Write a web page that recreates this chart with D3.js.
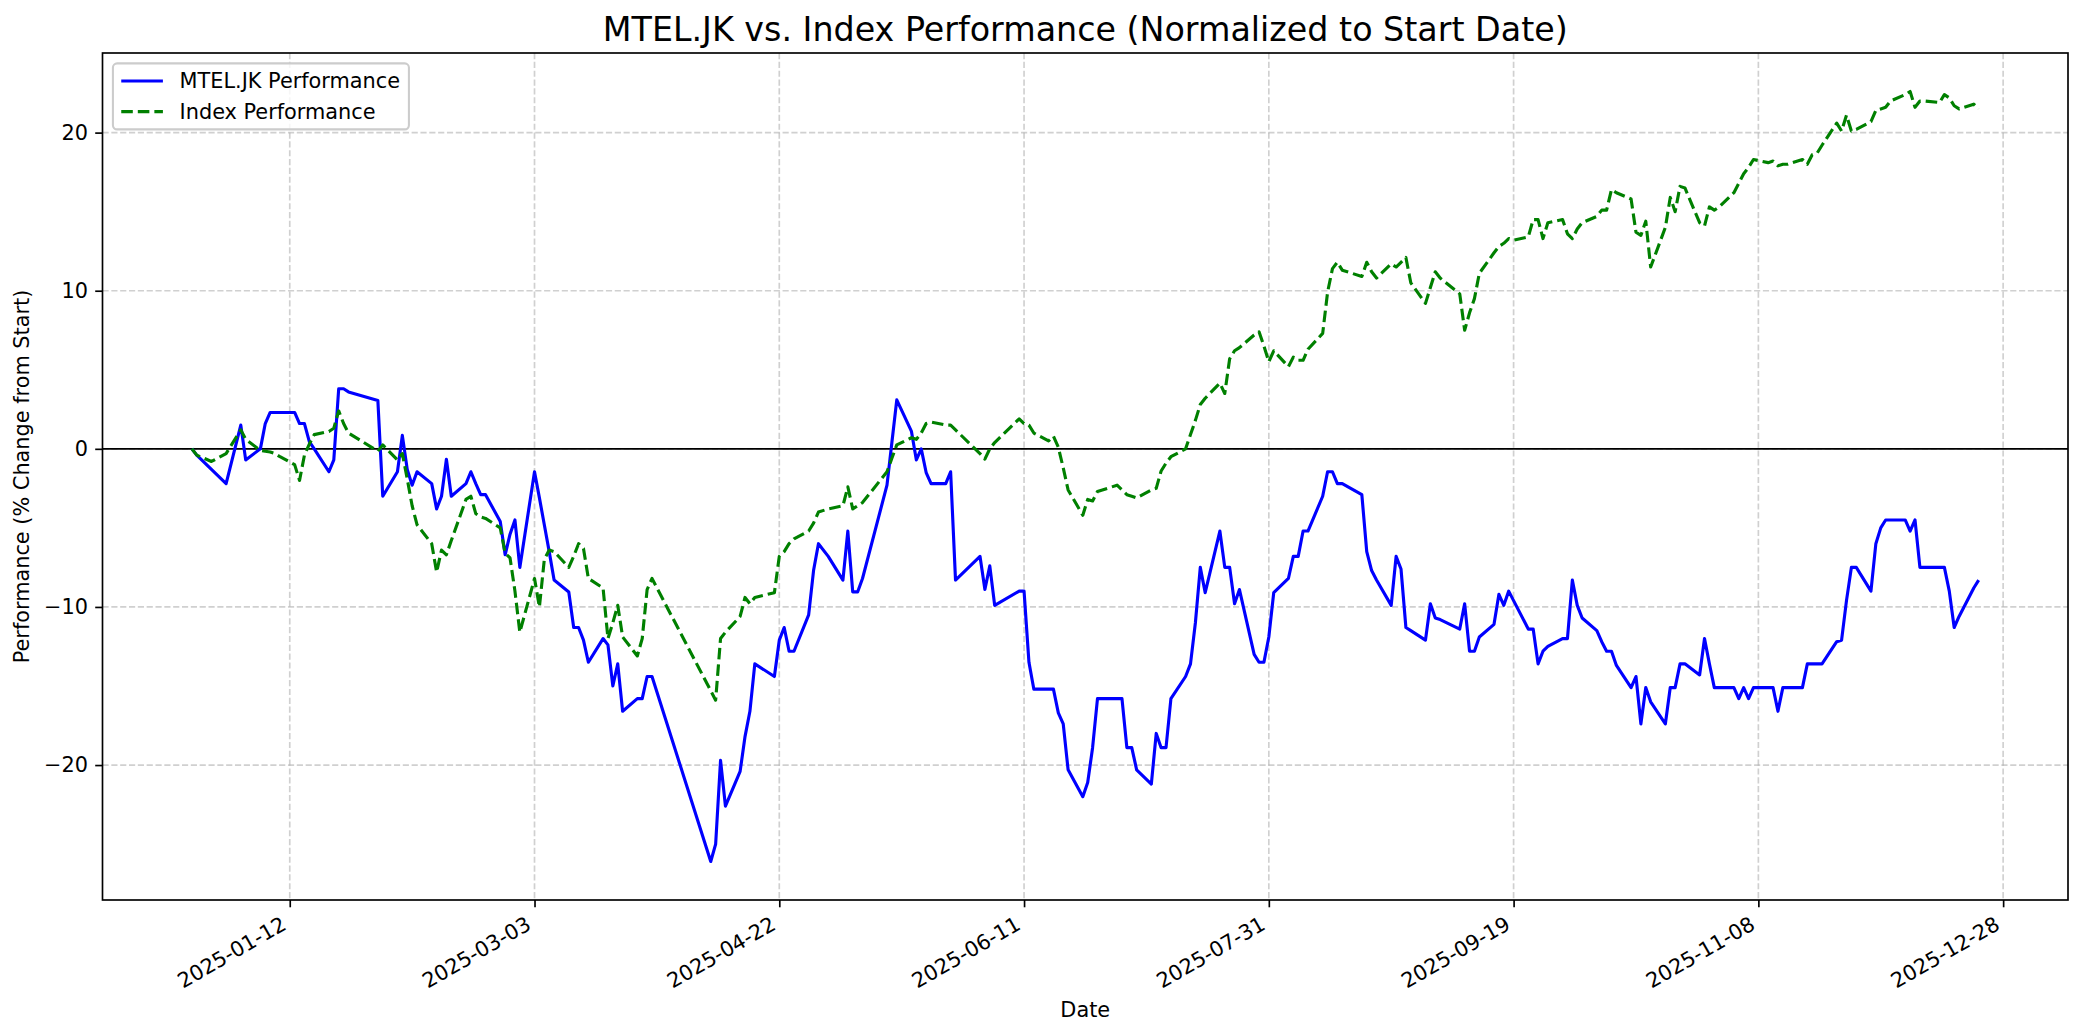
<!DOCTYPE html>
<html><head><meta charset="utf-8">
<script src="https://cdn.jsdelivr.net/npm/d3@7"></script>
<style>
html,body{margin:0;padding:0;background:#fff;}
svg{display:block;}
text{font-family:"DejaVu Sans",sans-serif;fill:#000;}
</style></head><body>
<svg id="chart" width="2084" height="1035"></svg>
<script>
const titleText = "MTEL.JK vs. Index Performance (Normalized to Start Date)";
const xLabelText = "Date";
const yLabelText = "Performance (% Change from Start)";
const seriesNames = ["MTEL.JK Performance", "Index Performance"];
const xTickLabels = ["2025-01-12","2025-03-03","2025-04-22","2025-06-11","2025-07-31","2025-09-19","2025-11-08","2025-12-28"];
const yTickValues = [-20, -10, 0, 10, 20];

const mtelData = [
["2024-12-23",0.0],["2024-12-24",-0.4],["2024-12-27",-1.3],["2024-12-30",-2.2],
["2025-01-02",1.5],["2025-01-03",-0.7],["2025-01-06",0.0],["2025-01-07",1.6],["2025-01-08",2.3],
["2025-01-09",2.3],["2025-01-10",2.3],["2025-01-13",2.3],["2025-01-14",1.6],["2025-01-15",1.6],
["2025-01-16",0.45],["2025-01-17",0.0],["2025-01-20",-1.45],["2025-01-21",-0.7],["2025-01-22",3.8],
["2025-01-23",3.8],["2025-01-24",3.6],["2025-01-30",3.05],["2025-01-31",-3.0],["2025-02-03",-1.45],
["2025-02-04",0.85],["2025-02-05",-1.3],["2025-02-06",-2.3],["2025-02-07",-1.45],["2025-02-10",-2.2],
["2025-02-11",-3.8],["2025-02-12",-3.0],["2025-02-13",-0.66],["2025-02-14",-3.0],["2025-02-17",-2.2],
["2025-02-18",-1.45],["2025-02-19",-2.2],["2025-02-20",-2.9],["2025-02-21",-2.9],["2025-02-24",-4.6],
["2025-02-25",-6.7],["2025-02-26",-5.4],["2025-02-27",-4.5],["2025-02-28",-7.5],["2025-03-03",-1.45],
["2025-03-04",-3.1],["2025-03-05",-4.8],["2025-03-06",-6.5],["2025-03-07",-8.3],["2025-03-10",-9.05],
["2025-03-11",-11.3],["2025-03-12",-11.3],["2025-03-13",-12.1],["2025-03-14",-13.5],["2025-03-17",-12.0],
["2025-03-18",-12.4],["2025-03-19",-15.0],["2025-03-20",-13.6],["2025-03-21",-16.6],["2025-03-24",-15.8],
["2025-03-25",-15.8],["2025-03-26",-14.4],["2025-03-27",-14.4],["2025-04-08",-26.1],["2025-04-09",-25.0],
["2025-04-10",-19.7],["2025-04-11",-22.6],["2025-04-14",-20.4],["2025-04-15",-18.2],["2025-04-16",-16.6],
["2025-04-17",-13.6],["2025-04-21",-14.4],["2025-04-22",-12.1],["2025-04-23",-11.3],["2025-04-24",-12.8],
["2025-04-25",-12.8],["2025-04-28",-10.5],["2025-04-29",-7.7],["2025-04-30",-6.0],["2025-05-02",-6.8],
["2025-05-05",-8.3],["2025-05-06",-5.2],["2025-05-07",-9.05],["2025-05-08",-9.05],["2025-05-09",-8.2],
["2025-05-14",-2.3],["2025-05-15",0.4],["2025-05-16",3.1],["2025-05-19",1.1],["2025-05-20",-0.7],
["2025-05-21",0.0],["2025-05-22",-1.5],["2025-05-23",-2.2],["2025-05-26",-2.2],["2025-05-27",-1.45],
["2025-05-28",-8.3],["2025-06-02",-6.8],["2025-06-03",-8.9],["2025-06-04",-7.4],["2025-06-05",-9.9],
["2025-06-10",-9.0],["2025-06-11",-9.0],["2025-06-12",-13.5],["2025-06-13",-15.2],["2025-06-16",-15.2],
["2025-06-17",-15.2],["2025-06-18",-16.7],["2025-06-19",-17.4],["2025-06-20",-20.3],["2025-06-23",-22.0],
["2025-06-24",-21.1],["2025-06-25",-18.9],["2025-06-26",-15.8],["2025-06-30",-15.8],["2025-07-01",-15.8],
["2025-07-02",-18.9],["2025-07-03",-18.9],["2025-07-04",-20.3],["2025-07-07",-21.2],["2025-07-08",-18.0],
["2025-07-09",-18.9],["2025-07-10",-18.9],["2025-07-11",-15.8],["2025-07-14",-14.4],["2025-07-15",-13.6],
["2025-07-16",-11.0],["2025-07-17",-7.5],["2025-07-18",-9.1],["2025-07-21",-5.2],["2025-07-22",-7.5],
["2025-07-23",-7.5],["2025-07-24",-9.8],["2025-07-25",-8.9],["2025-07-28",-13.0],["2025-07-29",-13.5],
["2025-07-30",-13.5],["2025-07-31",-11.9],["2025-08-01",-9.1],["2025-08-04",-8.2],["2025-08-05",-6.8],
["2025-08-06",-6.8],["2025-08-07",-5.2],["2025-08-08",-5.2],["2025-08-11",-3.0],["2025-08-12",-1.45],
["2025-08-13",-1.45],["2025-08-14",-2.2],["2025-08-15",-2.2],["2025-08-19",-2.9],["2025-08-20",-6.5],
["2025-08-21",-7.7],["2025-08-22",-8.3],["2025-08-25",-9.9],["2025-08-26",-6.8],["2025-08-27",-7.6],
["2025-08-28",-11.3],["2025-08-29",-11.5],["2025-09-01",-12.1],["2025-09-02",-9.8],["2025-09-03",-10.7],
["2025-09-04",-10.8],["2025-09-08",-11.4],["2025-09-09",-9.8],["2025-09-10",-12.8],["2025-09-11",-12.8],
["2025-09-12",-11.9],["2025-09-15",-11.1],["2025-09-16",-9.2],["2025-09-17",-9.9],["2025-09-18",-9.0],
["2025-09-19",-9.6],["2025-09-22",-11.4],["2025-09-23",-11.4],["2025-09-24",-13.6],["2025-09-25",-12.8],
["2025-09-26",-12.5],["2025-09-29",-12.0],["2025-09-30",-12.0],["2025-10-01",-8.3],["2025-10-02",-9.9],
["2025-10-03",-10.7],["2025-10-06",-11.5],["2025-10-07",-12.2],["2025-10-08",-12.8],["2025-10-09",-12.8],
["2025-10-10",-13.7],["2025-10-13",-15.1],["2025-10-14",-14.4],["2025-10-15",-17.4],["2025-10-16",-15.1],
["2025-10-17",-16.0],["2025-10-20",-17.4],["2025-10-21",-15.1],["2025-10-22",-15.1],["2025-10-23",-13.6],
["2025-10-24",-13.6],["2025-10-27",-14.3],["2025-10-28",-12.0],["2025-10-29",-13.6],["2025-10-30",-15.1],
["2025-10-31",-15.1],["2025-11-03",-15.1],["2025-11-04",-15.8],["2025-11-05",-15.1],["2025-11-06",-15.8],
["2025-11-07",-15.1],["2025-11-10",-15.1],["2025-11-11",-15.1],["2025-11-12",-16.6],["2025-11-13",-15.1],
["2025-11-14",-15.1],["2025-11-17",-15.1],["2025-11-18",-13.6],["2025-11-19",-13.6],["2025-11-20",-13.6],
["2025-11-21",-13.6],["2025-11-24",-12.2],["2025-11-25",-12.1],["2025-11-26",-9.6],["2025-11-27",-7.5],
["2025-11-28",-7.5],["2025-12-01",-9.0],["2025-12-02",-6.0],["2025-12-03",-5.0],["2025-12-04",-4.5],
["2025-12-05",-4.5],["2025-12-08",-4.5],["2025-12-09",-5.2],["2025-12-10",-4.5],["2025-12-11",-7.5],
["2025-12-12",-7.5],["2025-12-15",-7.5],["2025-12-16",-7.5],["2025-12-17",-9.0],["2025-12-18",-11.3],
["2025-12-19",-10.6],["2025-12-22",-8.8],["2025-12-23",-8.3]
];

const indexData = [
["2024-12-23",0.0],["2024-12-24",-0.4],["2024-12-27",-0.8],["2024-12-30",-0.3],
["2025-01-02",1.2],["2025-01-03",0.6],["2025-01-06",-0.1],["2025-01-07",-0.15],["2025-01-08",-0.2],
["2025-01-09",-0.3],["2025-01-10",-0.5],["2025-01-13",-1.0],["2025-01-14",-2.0],["2025-01-15",-0.4],
["2025-01-16",0.3],["2025-01-17",0.9],["2025-01-20",1.1],["2025-01-21",1.3],["2025-01-22",2.4],
["2025-01-23",1.6],["2025-01-24",1.0],["2025-01-30",-0.15],["2025-01-31",0.25],["2025-02-03",-0.7],
["2025-02-04",-0.3],["2025-02-05",-1.9],["2025-02-06",-3.6],["2025-02-07",-4.8],["2025-02-10",-6.0],
["2025-02-11",-7.8],["2025-02-12",-6.4],["2025-02-13",-6.7],["2025-02-14",-5.8],["2025-02-17",-3.2],
["2025-02-18",-3.0],["2025-02-19",-4.1],["2025-02-20",-4.3],["2025-02-21",-4.4],["2025-02-24",-5.0],
["2025-02-25",-6.6],["2025-02-26",-6.9],["2025-02-27",-9.0],["2025-02-28",-11.6],["2025-03-03",-8.2],
["2025-03-04",-10.0],["2025-03-05",-7.0],["2025-03-06",-6.4],["2025-03-07",-6.5],["2025-03-10",-7.5],
["2025-03-11",-6.8],["2025-03-12",-6.0],["2025-03-13",-6.3],["2025-03-14",-8.2],["2025-03-17",-8.8],
["2025-03-18",-12.0],["2025-03-19",-11.0],["2025-03-20",-9.9],["2025-03-21",-11.9],["2025-03-24",-13.1],
["2025-03-25",-12.0],["2025-03-26",-8.9],["2025-03-27",-8.2],["2025-04-08",-15.3],["2025-04-09",-15.9],
["2025-04-10",-12.0],["2025-04-11",-11.6],["2025-04-14",-10.6],["2025-04-15",-9.4],["2025-04-16",-9.8],
["2025-04-17",-9.4],["2025-04-21",-9.1],["2025-04-22",-6.8],["2025-04-23",-6.5],["2025-04-24",-6.0],
["2025-04-25",-5.7],["2025-04-28",-5.2],["2025-04-29",-4.7],["2025-04-30",-4.0],["2025-05-02",-3.8],
["2025-05-05",-3.6],["2025-05-06",-2.4],["2025-05-07",-3.8],["2025-05-08",-3.6],["2025-05-09",-3.4],
["2025-05-14",-1.45],["2025-05-15",-0.6],["2025-05-16",0.25],["2025-05-19",0.7],["2025-05-20",0.6],
["2025-05-21",1.0],["2025-05-22",1.6],["2025-05-23",1.7],["2025-05-26",1.5],["2025-05-27",1.5],
["2025-05-28",1.2],["2025-06-02",-0.3],["2025-06-03",-0.65],["2025-06-04",0.0],["2025-06-05",0.4],
["2025-06-10",1.9],["2025-06-11",1.6],["2025-06-12",1.5],["2025-06-13",1.0],["2025-06-16",0.5],
["2025-06-17",0.8],["2025-06-18",0.1],["2025-06-19",-1.2],["2025-06-20",-2.6],["2025-06-23",-4.2],
["2025-06-24",-3.2],["2025-06-25",-3.3],["2025-06-26",-2.7],["2025-06-30",-2.3],["2025-07-01",-2.6],
["2025-07-02",-2.9],["2025-07-03",-3.0],["2025-07-04",-3.1],["2025-07-07",-2.6],["2025-07-08",-2.5],
["2025-07-09",-1.4],["2025-07-10",-0.9],["2025-07-11",-0.5],["2025-07-14",0.0],["2025-07-15",0.9],
["2025-07-16",1.8],["2025-07-17",2.8],["2025-07-18",3.2],["2025-07-21",4.15],["2025-07-22",3.5],
["2025-07-23",5.7],["2025-07-24",6.2],["2025-07-25",6.4],["2025-07-28",7.2],["2025-07-29",7.4],
["2025-07-30",6.5],["2025-07-31",5.5],["2025-08-01",6.2],["2025-08-04",5.2],["2025-08-05",5.8],
["2025-08-06",5.6],["2025-08-07",5.6],["2025-08-08",6.3],["2025-08-11",7.3],["2025-08-12",9.9],
["2025-08-13",11.4],["2025-08-14",11.8],["2025-08-15",11.3],["2025-08-19",10.9],["2025-08-20",11.8],
["2025-08-21",11.2],["2025-08-22",10.8],["2025-08-25",11.7],["2025-08-26",11.5],["2025-08-27",11.8],
["2025-08-28",12.1],["2025-08-29",10.5],["2025-09-01",9.2],["2025-09-02",10.2],["2025-09-03",11.2],
["2025-09-04",10.8],["2025-09-08",9.8],["2025-09-09",7.5],["2025-09-10",8.6],["2025-09-11",9.5],
["2025-09-12",11.1],["2025-09-15",12.4],["2025-09-16",12.8],["2025-09-17",13.0],["2025-09-18",13.3],
["2025-09-19",13.2],["2025-09-22",13.4],["2025-09-23",14.5],["2025-09-24",14.5],["2025-09-25",13.3],
["2025-09-26",14.3],["2025-09-29",14.5],["2025-09-30",13.6],["2025-10-01",13.3],["2025-10-02",13.9],
["2025-10-03",14.3],["2025-10-06",14.7],["2025-10-07",15.1],["2025-10-08",15.1],["2025-10-09",16.4],
["2025-10-10",16.2],["2025-10-13",15.8],["2025-10-14",13.7],["2025-10-15",13.5],["2025-10-16",14.4],
["2025-10-17",11.5],["2025-10-20",14.0],["2025-10-21",15.9],["2025-10-22",15.0],["2025-10-23",16.6],
["2025-10-24",16.5],["2025-10-27",14.3],["2025-10-28",14.1],["2025-10-29",15.3],["2025-10-30",15.1],
["2025-10-31",15.3],["2025-11-03",16.2],["2025-11-04",16.8],["2025-11-05",17.4],["2025-11-06",17.8],
["2025-11-07",18.3],["2025-11-10",18.1],["2025-11-11",18.2],["2025-11-12",17.9],["2025-11-13",18.0],
["2025-11-14",18.0],["2025-11-17",18.3],["2025-11-18",18.0],["2025-11-19",18.6],["2025-11-20",18.7],
["2025-11-21",19.2],["2025-11-24",20.6],["2025-11-25",20.1],["2025-11-26",21.1],["2025-11-27",20.1],
["2025-11-28",20.2],["2025-12-01",20.7],["2025-12-02",21.4],["2025-12-03",21.5],["2025-12-04",21.6],
["2025-12-05",22.0],["2025-12-08",22.4],["2025-12-09",22.6],["2025-12-10",21.6],["2025-12-11",22.0],
["2025-12-12",22.0],["2025-12-15",21.9],["2025-12-16",22.4],["2025-12-17",22.2],["2025-12-18",21.7],
["2025-12-19",21.5],["2025-12-22",21.8],["2025-12-23",21.5]
];

const svg = d3.select("#chart");
const W = 2084, H = 1035;
const PT = 2.083;               // px per point
const FS = 10 * PT;             // base font size
const plot = {left: 102.5, right: 2068, top: 53, bottom: 900};
const parse = d3.utcParse("%Y-%m-%d");
const fmt = d3.utcFormat("%Y-%m-%d");

const mtel = mtelData.map(d => ({date: parse(d[0]), value: d[1]}));
const idx = indexData.map(d => ({date: parse(d[0]), value: d[1]}));
const all = mtel.concat(idx);

const [d0, d1] = d3.extent(all, d => d.date);
const dspan = d1 - d0;
const x = d3.scaleUtc()
  .domain([new Date(+d0 - dspan * 0.05), new Date(+d1 + dspan * 0.05)])
  .range([plot.left, plot.right]);
const [v0, v1] = d3.extent(all, d => d.value);
const vspan = v1 - v0;
const y = d3.scaleLinear()
  .domain([v0 - vspan * 0.05, v1 + vspan * 0.05])
  .range([plot.bottom, plot.top]);

svg.append("rect").attr("width", W).attr("height", H).attr("fill", "#fff");

const xTicks = xTickLabels.map(parse);

// grid
const grid = svg.append("g").attr("stroke", "#b0b0b0").attr("stroke-opacity", 0.6)
  .attr("stroke-width", 0.8 * PT).attr("stroke-dasharray", `${3.7 * 0.8 * PT},${1.6 * 0.8 * PT}`);
grid.selectAll("line.vx").data(xTicks).join("line")
  .attr("x1", d => x(d)).attr("x2", d => x(d))
  .attr("y1", plot.top).attr("y2", plot.bottom);
grid.selectAll("line.hy").data(yTickValues).join("line")
  .attr("x1", plot.left).attr("x2", plot.right)
  .attr("y1", d => y(d)).attr("y2", d => y(d));

// zero line
svg.append("line")
  .attr("x1", plot.left).attr("x2", plot.right)
  .attr("y1", y(0)).attr("y2", y(0))
  .attr("stroke", "#000").attr("stroke-width", 0.8 * PT);

const line = d3.line().x(d => x(d.date)).y(d => y(d.value));
const LW = 1.5 * PT;
const greenDash = `${3.7 * LW},${1.6 * LW}`;

svg.append("path").datum(mtel)
  .attr("d", line).attr("fill", "none")
  .attr("stroke", "#0000ff").attr("stroke-width", LW)
  .attr("stroke-linejoin", "round").attr("stroke-linecap", "butt");

svg.append("path").datum(idx)
  .attr("d", line).attr("fill", "none")
  .attr("stroke", "#008000").attr("stroke-width", LW)
  .attr("stroke-dasharray", greenDash)
  .attr("stroke-linejoin", "round");

// axes
const TL = 3.5 * PT;
const xAxis = d3.axisBottom(x).tickValues(xTicks).tickFormat(fmt)
  .tickSizeInner(TL).tickSizeOuter(0);
const gx = svg.append("g").attr("transform", `translate(0,${plot.bottom})`).call(xAxis);
gx.select(".domain").remove();
gx.selectAll(".tick line").attr("stroke", "#000").attr("stroke-width", 0.8 * PT);
const ax = -0.24 * FS * 0.5, ay = TL * 2 + 0.76 * FS * 0.866;
gx.selectAll(".tick text")
  .attr("font-size", FS).attr("font-family", "DejaVu Sans")
  .attr("text-anchor", "end")
  .attr("x", ax).attr("y", ay).attr("dy", 0)
  .attr("transform", `rotate(-30, ${ax}, ${ay})`);

const yAxis = d3.axisLeft(y).tickValues(yTickValues)
  .tickFormat(d => d < 0 ? "\u2212" + Math.abs(d) : String(d))
  .tickSizeInner(TL).tickSizeOuter(0).tickPadding(TL);
const gy = svg.append("g").attr("transform", `translate(${plot.left},0)`).call(yAxis);
gy.select(".domain").remove();
gy.selectAll(".tick line").attr("stroke", "#000").attr("stroke-width", 0.8 * PT);
gy.selectAll(".tick text").attr("font-size", FS).attr("font-family", "DejaVu Sans");

// spines
svg.append("rect")
  .attr("x", plot.left).attr("y", plot.top)
  .attr("width", plot.right - plot.left).attr("height", plot.bottom - plot.top)
  .attr("fill", "none").attr("stroke", "#000").attr("stroke-width", 0.8 * PT);

// title & labels
svg.append("text").attr("x", (plot.left + plot.right) / 2).attr("y", 41)
  .attr("text-anchor", "middle").attr("font-size", 16 * PT).text(titleText);
svg.append("text").attr("x", (plot.left + plot.right) / 2).attr("y", 1016.5)
  .attr("text-anchor", "middle").attr("font-size", FS).text(xLabelText);
svg.append("text")
  .attr("transform", `translate(29,${(plot.top + plot.bottom) / 2}) rotate(-90)`)
  .attr("text-anchor", "middle").attr("font-size", FS).text(yLabelText);

// legend
const lg = svg.append("g");
const lx = plot.left + 0.5 * FS, ly = plot.top + 0.5 * FS;
lg.append("rect").attr("x", lx).attr("y", ly).attr("width", 296).attr("height", 66)
  .attr("rx", 0.2 * FS).attr("fill", "#fff").attr("fill-opacity", 0.8)
  .attr("stroke", "#cccccc").attr("stroke-width", PT);
const legendItems = [
  {name: seriesNames[0], color: "#0000ff", dash: null},
  {name: seriesNames[1], color: "#008000", dash: greenDash}
];
legendItems.forEach((it, i) => {
  const cy = 81 + i * 30.6;
  const hx0 = lx + 0.4 * FS;
  lg.append("line").attr("x1", hx0).attr("x2", hx0 + 2 * FS).attr("y1", cy).attr("y2", cy)
    .attr("stroke", it.color).attr("stroke-width", LW)
    .attr("stroke-dasharray", it.dash);
  lg.append("text").attr("x", hx0 + 2.8 * FS).attr("y", cy).attr("dy", "0.35em")
    .attr("font-size", FS).text(it.name);
});
</script>
</body></html>
